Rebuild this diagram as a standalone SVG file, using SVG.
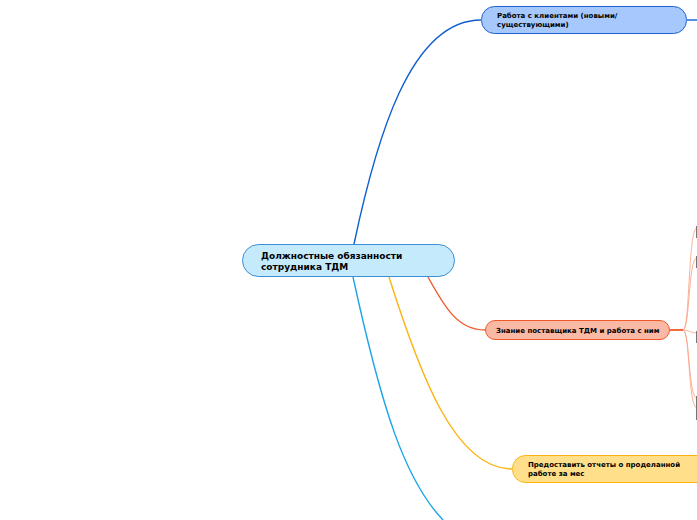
<svg xmlns="http://www.w3.org/2000/svg" width="697" height="520" viewBox="0 0 697 520">
<style>
.t{font-family:"DejaVu Sans",Verdana,sans-serif;font-weight:bold;fill:#000}
.s{font-size:7px}
.c{fill:none;stroke-width:1.4}
.sub{fill:none;stroke:#f9a88c;stroke-width:0.9}
</style>
<rect width="697" height="520" fill="#fff"/>
<g id="connectors">
<path class="c" stroke="#0f5fcf" d="M354,244 C376,140 410,20 481,20"/>
<path class="c" stroke="#0f5fcf" d="M687,20 L697,20"/>
<path class="c" stroke="#f05a28" d="M428,277 C445,308 458,330 485,330"/>
<path class="c" stroke="#fbb40f" d="M389,277 C420,375 455,469 512,469"/>
<path class="c" stroke="#1ba6e6" d="M353,277 C382,410 405,480 443,520"/>
<path stroke="#f05a28" stroke-width="1.8" fill="none" d="M670,330 L683,330"/>
<path class="sub" d="M683,330 C690,330 688,228 697,228"/>
<path class="sub" d="M683,330 C690,330 688,258 697,258"/>
<path class="sub" d="M683,330 C690,330 690,333 697,333"/>
<path class="sub" d="M683,330 C690,330 688,398 697,398"/>
<path class="sub" d="M683,330 C690,330 688,408 697,408"/>
</g>
<g id="root">
<rect x="242.5" y="244.5" width="212" height="32" rx="16" fill="#c5eafc" stroke="#3a8fd6" stroke-width="1"/>
<text class="t" font-size="9" x="261" y="259">Должностные обязанности</text>
<text class="t" font-size="9" x="261" y="270">сотрудника ТДМ</text>
</g>
<g id="n1">
<rect x="481.5" y="6.5" width="205" height="27" rx="13" fill="#a7c8fd" stroke="#1e63d2" stroke-width="1"/>
<text class="t s" x="497" y="18">Работа с клиентами (новыми/</text>
<text class="t s" x="497" y="27">существующими)</text>
</g>
<g id="n2">
<rect x="485.5" y="320.5" width="184" height="19" rx="9.5" fill="#f9b9a5" stroke="#f05a28" stroke-width="1"/>
<text class="t s" x="496" y="333">Знание поставщика ТДМ и работа с ним</text>
</g>
<g id="n3">
<rect x="512.5" y="455.5" width="200" height="27" rx="13" fill="#ffdf8a" stroke="#fbb40f" stroke-width="1"/>
<text class="t s" x="528" y="467">Предоставить отчеты о проделанной</text>
<text class="t s" x="528" y="476">работе за мес</text>
</g>
<g id="sub-nodes" fill="#777">
<rect x="696" y="226" width="1.5" height="12"/>
<rect x="696" y="256" width="1.5" height="12"/>
<rect x="696" y="331" width="1.5" height="12"/>
<rect x="696" y="396" width="1.5" height="11"/>
<rect x="696" y="407" width="1.5" height="13"/>
</g>
</svg>
